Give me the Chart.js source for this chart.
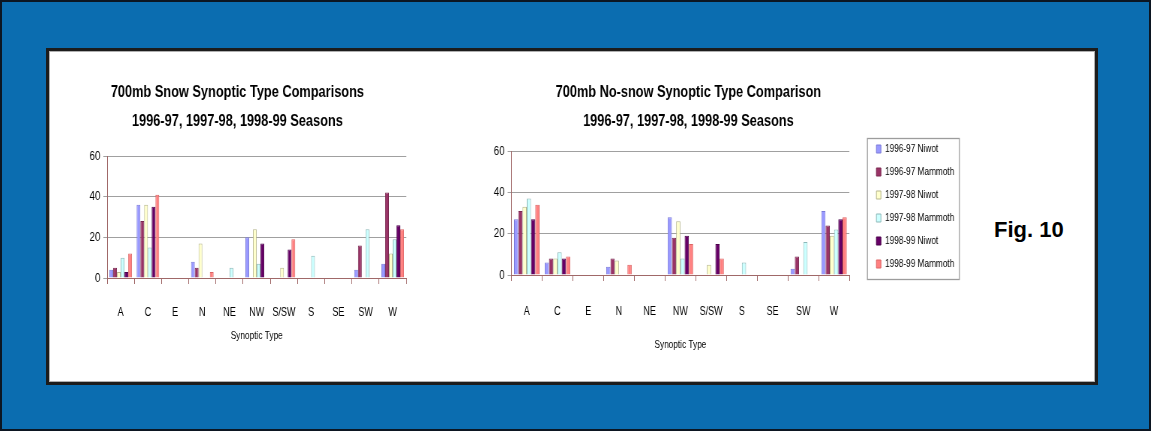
<!DOCTYPE html>
<html>
<head>
<meta charset="utf-8">
<script src="https://cdn.jsdelivr.net/npm/chart.js@4"></script>
<style>
  body { margin: 0; }
  #page { position: relative; width: 1151px; height: 431px; background: #0b6db0; box-shadow: inset 0 0 0 2px #0c1622; overflow: hidden; }
  #panel { position: absolute; left: 46px; top: 48px; width: 1052px; height: 337px; box-sizing: border-box; background: #fff; border: 3px solid #1c1c1c; box-shadow: inset 0 0 0 1px #b0b0b0; }
  /* the original figure is squeezed sideways, so the charts are drawn wide and squeezed */
  .box { position: absolute; transform: scaleX(0.75); transform-origin: 0 0; }
  #fig { position: absolute; left: 994px; top: 217px; font: bold 22px "Liberation Sans", Arial, sans-serif; color: #000; }
</style>
</head>
<body>
<div id="page">
  <div id="panel"></div>
  <div class="box" style="left:62px;top:60px;width:466.7px;height:285px"><canvas id="snowChart"></canvas></div>
  <div class="box" style="left:414.6px;top:60px;width:729px;height:293px"><canvas id="nosnowChart"></canvas></div>
  <div id="fig">Fig. 10</div>
</div>
<script>
// ===== DATA =====
const categories = ["A", "C", "E", "N", "NE", "NW", "S/SW", "S", "SE", "SW", "W"];
const seriesNames = ["1996-97 Niwot", "1996-97 Mammoth", "1997-98 Niwot", "1997-98 Mammoth", "1998-99 Niwot", "1998-99 Mammoth"];
const yTicks = [0, 20, 40, 60];

// snow days
const snowNiwot9697 = [4, 36, 0, 8, 0, 20, 0, 0, 0, 4, 7];
const snowMammoth9697 = [5, 28, 0, 5, 0, 0, 0, 0, 0, 16, 42];
const snowNiwot9798 = [3, 36, 0, 17, 0, 24, 5, 0, 0, 0, 12];
const snowMammoth9798 = [10, 15, 0, 0, 5, 7, 0, 11, 0, 24, 19];
const snowNiwot9899 = [3, 35, 0, 0, 0, 17, 14, 0, 0, 0, 26];
const snowMammoth9899 = [12, 41, 0, 3, 0, 0, 19, 0, 0, 0, 24];

// no-snow days
const dryNiwot9697 = [27, 6, 0, 4, 0, 28, 0, 0, 0, 3, 31];
const dryMammoth9697 = [31, 8, 0, 8, 0, 18, 0, 0, 0, 9, 24];
const dryNiwot9798 = [33, 8, 0, 7, 0, 26, 5, 0, 0, 0, 19];
const dryMammoth9798 = [37, 11, 0, 0, 0, 8, 0, 6, 0, 16, 22];
const dryNiwot9899 = [27, 8, 0, 0, 0, 19, 15, 0, 0, 0, 27];
const dryMammoth9899 = [34, 9, 0, 5, 0, 15, 8, 0, 0, 0, 28];

// excel-ish palette
const fills = ["#9999ff", "#993366", "#ffffcc", "#ccffff", "#660066", "#ff8080"];
const edges = ["#7a7ad8", "#7a2850", "#b5b58c", "#8cb8b8", "#4a004a", "#dd6464"];

Chart.defaults.font.family = "'Liberation Sans', Arial, sans-serif";
Chart.defaults.color = "#000";
Chart.defaults.animation = false;

function buildDatasets(seriesList) {
  return seriesList.map((vals, i) => ({
    label: seriesNames[i],
    data: vals,
    backgroundColor: fills[i],
    borderColor: edges[i],
    borderWidth: 1
  }));
}

// legend frame (excel style box), canvas units
const legendFrame = {
  id: "legendFrame",
  afterDraw(chart) {
    const lg = chart.legend;
    if (!lg || !lg.options.display || !lg.legendHitBoxes.length) return;
    const hb = lg.legendHitBoxes;
    const last = hb[hb.length - 1];
    const ctx = chart.ctx;
    const x = hb[0].left - 12, y = Math.round(hb[0].top - 6);
    const h = Math.round(last.top + last.height + 9 - y);
    ctx.save();
    ctx.strokeStyle = "#9c9c9c";
    ctx.lineWidth = 1.3;
    ctx.strokeRect(x, y + 0.5, 122.7, h);
    ctx.restore();
  }
};

function makeChart(id, title, seriesList, o) {
  const scales = {
    x: {
      grid: { display: true, offset: true, drawOnChartArea: false, drawTicks: true, tickLength: 6, color: "#a06868" },
      border: { display: true, color: "#a06868" },
      ticks: { autoSkip: false, maxRotation: 0, padding: o.xPad, font: { size: 12 } },
      title: { display: true, text: "Synoptic Type", font: { size: 11 }, padding: { top: 0, bottom: o.xTitlePad } },
      afterFit: (s) => { s.height = o.xHeight; }
    },
    y: {
      min: 0, max: 60,
      afterBuildTicks: (s) => { s.ticks = yTicks.map((v) => ({ value: v })); },
      grid: { color: "#a0a0a0", tickLength: 5, drawTicks: true },
      border: { display: true, color: "#a06868" },
      ticks: { padding: 4, font: { size: 13 } },
      afterFit: (s) => { s.width = o.yWidth; }
    }
  };
  if (o.legend) {
    scales.spacer = {
      type: "linear", position: "right", display: true,
      grid: { display: false }, border: { display: false }, ticks: { display: false },
      afterFit: (s) => { s.width = 24; }
    };
  }
  return new Chart(document.getElementById(id), {
    type: "bar",
    data: { labels: categories, datasets: buildDatasets(seriesList) },
    options: {
      responsive: true,
      maintainAspectRatio: false,
      events: [],
      layout: { padding: 0, autoPadding: false },
      datasets: { bar: { categoryPercentage: 0.83, barPercentage: 1.0 } },
      scales: scales,
      plugins: {
        tooltip: { enabled: false },
        title: {
          display: true,
          text: title,
          font: { size: 17, weight: "bold", lineHeight: "29px" },
          padding: { top: o.titleTop, bottom: o.titleBottom }
        },
        legend: {
          display: !!o.legend,
          position: "right",
          maxWidth: 400,
          labels: { boxWidth: 6, boxHeight: 8, padding: 12, font: { size: 11 } }
        }
      }
    },
    plugins: o.legend ? [legendFrame] : []
  });
}

makeChart("snowChart",
  ["700mb Snow Synoptic Type Comparisons", "1996-97, 1997-98, 1998-99 Seasons"],
  [snowNiwot9697, snowMammoth9697, snowNiwot9798, snowMammoth9798, snowNiwot9899, snowMammoth9899],
  { titleTop: 17.5, titleBottom: 20.5, yWidth: 60, xHeight: 67, xPad: 21, xTitlePad: 2, legend: false });

makeChart("nosnowChart",
  ["700mb No-snow Synoptic Type Comparison", "1996-97, 1997-98, 1998-99 Seasons"],
  [dryNiwot9697, dryMammoth9697, dryNiwot9798, dryMammoth9798, dryNiwot9899, dryMammoth9899],
  { titleTop: 17.5, titleBottom: 15.5, yWidth: 128.5, xHeight: 78, xPad: 23, xTitlePad: 1, legend: true });
</script>
</body>
</html>
